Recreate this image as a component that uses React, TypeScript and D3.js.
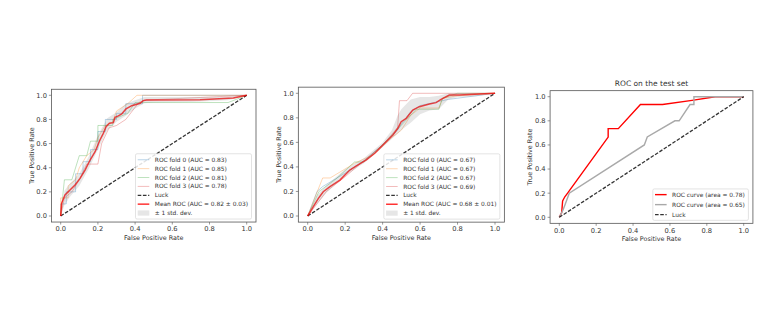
import React from 'react';
import * as d3 from 'd3';

type Pt = [number, number];

const TICKS = [0, 0.2, 0.4, 0.6, 0.8, 1.0];
const TICK_LABELS = ['0.0', '0.2', '0.4', '0.6', '0.8', '1.0'];
const X_LABEL = 'False Positive Rate';
const Y_LABEL = 'True Positive Rate';
const LUCK: Pt[] = [[0, 0], [1, 1]];
const LUCK_LABEL = 'Luck';
const STD_LABEL = '± 1 std. dev.';
const FOLD_COLORS = ['#1f77b4', '#ff7f0e', '#2ca02c', '#d62728'];

// Panel 1
const P1_FOLD0: Pt[] = [[0, 0], [0, 0.1], [0.03, 0.1], [0.03, 0.2], [0.08, 0.2], [0.08, 0.35], [0.12, 0.35], [0.12, 0.45], [0.16, 0.45], [0.16, 0.55], [0.2, 0.55], [0.2, 0.7], [0.24, 0.7], [0.24, 0.8], [0.3, 0.8], [0.3, 0.85], [0.35, 0.85], [0.35, 0.93], [0.44, 0.93], [0.44, 1.0], [1, 1]];
const P1_FOLD1: Pt[] = [[0, 0], [0, 0.15], [0.04, 0.15], [0.04, 0.25], [0.08, 0.3], [0.1, 0.4], [0.14, 0.5], [0.18, 0.55], [0.2, 0.65], [0.24, 0.75], [0.28, 0.78], [0.3, 0.87], [0.36, 0.93], [0.41, 1.0], [1, 1]];
const P1_FOLD2: Pt[] = [[0, 0], [0.02, 0.3], [0.06, 0.3], [0.1, 0.5], [0.14, 0.5], [0.16, 0.62], [0.2, 0.62], [0.2, 0.75], [0.28, 0.75], [0.28, 0.8], [0.36, 0.85], [0.4, 0.94], [0.9, 0.94], [1, 1]];
const P1_FOLD3: Pt[] = [[0, 0], [0.02, 0.15], [0.06, 0.2], [0.1, 0.3], [0.14, 0.43], [0.2, 0.43], [0.22, 0.6], [0.26, 0.73], [0.3, 0.75], [0.35, 0.8], [0.42, 0.94], [0.45, 0.96], [1, 1]];
const P1_FOLD_LABELS = ['ROC fold 0 (AUC = 0.83)', 'ROC fold 1 (AUC = 0.85)', 'ROC fold 2 (AUC = 0.81)', 'ROC fold 3 (AUC = 0.78)'];
const P1_MEAN: Pt[] = [[0, 0], [0.005, 0.105], [0.023, 0.174], [0.05, 0.215], [0.077, 0.257], [0.104, 0.312], [0.131, 0.381], [0.158, 0.464], [0.185, 0.533], [0.211, 0.63], [0.229, 0.685], [0.244, 0.74], [0.262, 0.768], [0.283, 0.773], [0.292, 0.818], [0.31, 0.829], [0.328, 0.845], [0.351, 0.887], [0.382, 0.914], [0.427, 0.934], [0.444, 0.956], [0.462, 0.961], [0.749, 0.964], [0.928, 0.978], [1, 1]];
const P1_MEAN_LABEL = 'Mean ROC (AUC = 0.82 ± 0.03)';
const P1_BAND_X = [0, 0.02, 0.05, 0.1, 0.15, 0.2, 0.25, 0.3, 0.35, 0.4, 0.45, 0.5, 0.7, 0.9, 1.0];
const P1_BAND_LO = [0, 0.09, 0.16, 0.25, 0.39, 0.55, 0.71, 0.78, 0.83, 0.89, 0.935, 0.94, 0.945, 0.96, 1];
const P1_BAND_HI = [0, 0.21, 0.27, 0.35, 0.49, 0.67, 0.81, 0.86, 0.93, 0.96, 0.985, 0.985, 0.985, 0.99, 1];

// Panel 2
const P2_FOLD0: Pt[] = [[0, 0], [0.05, 0.2], [0.08, 0.24], [0.2, 0.35], [0.3, 0.45], [0.4, 0.58], [0.48, 0.7], [0.5, 0.75], [0.55, 0.85], [0.6, 0.9], [0.75, 0.95], [0.85, 0.97], [1, 1]];
const P2_FOLD1: Pt[] = [[0, 0], [0.08, 0.31], [0.12, 0.31], [0.25, 0.43], [0.35, 0.5], [0.45, 0.64], [0.5, 0.7], [0.55, 0.82], [0.6, 0.88], [0.7, 0.88], [0.72, 0.96], [0.8, 0.98], [1, 1]];
const P2_FOLD2: Pt[] = [[0, 0], [0.06, 0.2], [0.15, 0.3], [0.25, 0.44], [0.3, 0.44], [0.4, 0.58], [0.5, 0.74], [0.58, 0.87], [0.7, 0.87], [0.72, 0.96], [0.8, 1], [1, 1]];
const P2_FOLD3: Pt[] = [[0, 0], [0.1, 0.2], [0.2, 0.32], [0.3, 0.45], [0.4, 0.58], [0.48, 0.72], [0.49, 0.94], [0.53, 0.94], [0.56, 1], [1, 1]];
const P2_FOLD_LABELS = ['ROC fold 0 (AUC = 0.67)', 'ROC fold 1 (AUC = 0.67)', 'ROC fold 2 (AUC = 0.67)', 'ROC fold 3 (AUC = 0.69)'];
const P2_MEAN: Pt[] = [[0, 0], [0.03, 0.076], [0.057, 0.144], [0.083, 0.198], [0.119, 0.239], [0.172, 0.293], [0.225, 0.375], [0.26, 0.408], [0.313, 0.457], [0.358, 0.511], [0.402, 0.579], [0.455, 0.66], [0.481, 0.715], [0.499, 0.769], [0.526, 0.796], [0.561, 0.864], [0.596, 0.891], [0.65, 0.913], [0.685, 0.924], [0.712, 0.951], [0.756, 0.986], [0.809, 0.986], [1, 1]];
const P2_MEAN_LABEL = 'Mean ROC (AUC = 0.68 ± 0.01)';
const P2_BAND_X = [0, 0.05, 0.1, 0.2, 0.3, 0.4, 0.45, 0.48, 0.5, 0.55, 0.6, 0.65, 0.7, 0.75, 0.8, 0.9, 1];
const P2_BAND_LO = [0, 0.1, 0.19, 0.33, 0.43, 0.56, 0.63, 0.67, 0.7, 0.76, 0.83, 0.86, 0.87, 0.95, 0.97, 0.975, 1];
const P2_BAND_HI = [0, 0.17, 0.25, 0.38, 0.47, 0.6, 0.7, 0.82, 0.87, 0.95, 0.97, 0.97, 0.98, 1.0, 1.0, 1.0, 1];

// Panel 3
const P3_TITLE = 'ROC on the test set';
const P3_CURVE_A: Pt[] = [[0, 0], [0.013, 0.04], [0.018, 0.135], [0.03, 0.17], [0.045, 0.2], [0.265, 0.665], [0.265, 0.735], [0.32, 0.735], [0.44, 0.935], [0.56, 0.935], [0.72, 0.97], [0.845, 1], [1, 1]];
const P3_CURVE_B: Pt[] = [[0, 0], [0.02, 0.06], [0.03, 0.1], [0.054, 0.2], [0.461, 0.6], [0.477, 0.666], [0.627, 0.8], [0.65, 0.8], [0.709, 0.935], [0.73, 0.935], [0.73, 1.0], [1, 1]];
const P3_LABEL_A = 'ROC curve (area = 0.78)';
const P3_LABEL_B = 'ROC curve (area = 0.65)';

const FONT = "'DejaVu Sans', sans-serif";
const TEXT = '#333';
const SPINE = '#555';

type LegendItem = { label: string; kind: 'line' | 'patch'; color: string; opacity?: number; width?: number; dash?: string };

type PanelProps = {
  xr: [number, number];
  yr: [number, number];
  title?: string;
  legend: LegendItem[];
  legendW: number;
  rowH: number;
  legendPad: number;
  children: (x: d3.ScaleLinear<number, number>, y: d3.ScaleLinear<number, number>) => React.ReactNode;
};

function Panel({ xr, yr, title, legend, legendW, rowH, legendPad, children }: PanelProps) {
  const x = d3.scaleLinear().domain([0, 1]).range(xr);
  const y = d3.scaleLinear().domain([0, 1]).range(yr);
  const left = x(-0.05), right = x(1.05), top = y(1.05), bottom = y(-0.05);
  const lh = legendPad * 2 + (legend.length - 1) * rowH;
  const lx = right - 4.5 - legendW;
  const ly = bottom - 3 - lh;
  return (
    <g>
      {children(x, y)}
      <rect x={left} y={top} width={right - left} height={bottom - top} fill="none" stroke={SPINE} strokeWidth={0.8} />
      {TICKS.map((t, i) => (
        <g key={'x' + i}>
          <line x1={x(t)} x2={x(t)} y1={bottom} y2={bottom + 2.5} stroke={SPINE} strokeWidth={0.6} />
          <text x={x(t)} y={bottom + 7} dy="0.35em" textAnchor="middle" fontSize={6.7} fill={TEXT} fontFamily={FONT}>{TICK_LABELS[i]}</text>
        </g>
      ))}
      {TICKS.map((t, i) => (
        <g key={'y' + i}>
          <line x1={left} x2={left - 2.5} y1={y(t)} y2={y(t)} stroke={SPINE} strokeWidth={0.6} />
          <text x={left - 4.5} y={y(t)} dy="0.35em" textAnchor="end" fontSize={6.7} fill={TEXT} fontFamily={FONT}>{TICK_LABELS[i]}</text>
        </g>
      ))}
      <text x={(left + right) / 2} y={bottom + 15.5} dy="0.35em" textAnchor="middle" fontSize={6.4} fill={TEXT} fontFamily={FONT}>{X_LABEL}</text>
      <text transform={`translate(${left - 20},${(top + bottom) / 2}) rotate(-90)`} dy="0.35em" textAnchor="middle" fontSize={6.4} fill={TEXT} fontFamily={FONT}>{Y_LABEL}</text>
      {title && (
        <text x={(left + right) / 2} y={top - 5} textAnchor="middle" fontSize={7.5} fill={TEXT} fontFamily={FONT}>{title}</text>
      )}
      <rect x={lx} y={ly} width={legendW} height={lh} rx={1.5} fill="white" fillOpacity={0.85} stroke="#d0d0d0" strokeWidth={0.6} />
      {legend.map((it, i) => {
        const cy = ly + legendPad + i * rowH;
        return (
          <g key={'l' + i}>
            {it.kind === 'line' ? (
              <line x1={lx + 2.2} x2={lx + 13.8} y1={cy} y2={cy} stroke={it.color} strokeOpacity={it.opacity ?? 1} strokeWidth={it.width ?? 1} strokeDasharray={it.dash} />
            ) : (
              <rect x={lx + 2.2} y={cy - 2.6} width={11.6} height={5.2} fill={it.color} fillOpacity={it.opacity ?? 1} />
            )}
            <text x={lx + 19.3} y={cy} dy="0.35em" fontSize={5.9} fill={TEXT} fontFamily={FONT}>{it.label}</text>
          </g>
        );
      })}
    </g>
  );
}

function linePath(x: d3.ScaleLinear<number, number>, y: d3.ScaleLinear<number, number>, pts: Pt[]) {
  return d3.line<Pt>().x(d => x(d[0])).y(d => y(d[1]))(pts) || '';
}

function bandPath(x: d3.ScaleLinear<number, number>, y: d3.ScaleLinear<number, number>, xs: number[], lo: number[], hi: number[]) {
  const data = xs.map((v, i) => ({ v, lo: lo[i], hi: hi[i] }));
  return d3.area<{ v: number; lo: number; hi: number }>().x(d => x(d.v)).y0(d => y(d.lo)).y1(d => y(d.hi))(data) || '';
}

const LUCK_STYLE = { stroke: '#000', strokeOpacity: 0.8, strokeWidth: 1.3, strokeDasharray: '3.6,1.6', fill: 'none' };
const MEAN_COLOR = '#ff0000';

function cvLegend(labels: string[], meanLabel: string): LegendItem[] {
  return [
    ...labels.map((l, i) => ({ label: l, kind: 'line' as const, color: FOLD_COLORS[i], opacity: 0.35, width: 0.9 })),
    { label: LUCK_LABEL, kind: 'line', color: '#000', opacity: 0.8, width: 1.3, dash: '3.6,1.6' },
    { label: meanLabel, kind: 'line', color: MEAN_COLOR, opacity: 0.8, width: 1.5 },
    { label: STD_LABEL, kind: 'patch', color: 'grey', opacity: 0.2 },
  ];
}

function CvCurves({ x, y, folds, mean, bx, blo, bhi }: { x: any; y: any; folds: Pt[][]; mean: Pt[]; bx: number[]; blo: number[]; bhi: number[] }) {
  return (
    <g>
      {folds.map((f, i) => (
        <path key={i} d={linePath(x, y, f)} fill="none" stroke={FOLD_COLORS[i]} strokeOpacity={0.35} strokeWidth={0.9} />
      ))}
      <path d={linePath(x, y, LUCK)} {...LUCK_STYLE} />
      <path d={linePath(x, y, mean)} fill="none" stroke={MEAN_COLOR} strokeOpacity={0.8} strokeWidth={1.5} />
      <path d={bandPath(x, y, bx, blo, bhi)} fill="grey" fillOpacity={0.2} stroke="none" />
    </g>
  );
}

export default function App() {
  const p3Legend: LegendItem[] = [
    { label: P3_LABEL_A, kind: 'line', color: '#ff0000', width: 1.4 },
    { label: P3_LABEL_B, kind: 'line', color: '#a9a9a9', width: 1.4 },
    { label: LUCK_LABEL, kind: 'line', color: '#000', opacity: 0.8, width: 1.3, dash: '3.6,1.6' },
  ];
  return (
    <svg width={778} height={333} viewBox="0 0 778 333" style={{ position: 'absolute', left: 0, top: 0, background: 'white' }}>
      <rect x={0} y={0} width={778} height={333} fill="white" />
      <Panel xr={[60.7, 246.7]} yr={[216, 95.3]} legend={cvLegend(P1_FOLD_LABELS, P1_MEAN_LABEL)} legendW={116} rowH={8.88} legendPad={6}>
        {(x, y) => <CvCurves x={x} y={y} folds={[P1_FOLD0, P1_FOLD1, P1_FOLD2, P1_FOLD3]} mean={P1_MEAN} bx={P1_BAND_X} blo={P1_BAND_LO} bhi={P1_BAND_HI} />}
      </Panel>
      <Panel xr={[307.7, 495]} yr={[216, 93.3]} legend={cvLegend(P2_FOLD_LABELS, P2_MEAN_LABEL)} legendW={116} rowH={8.88} legendPad={6}>
        {(x, y) => <CvCurves x={x} y={y} folds={[P2_FOLD0, P2_FOLD1, P2_FOLD2, P2_FOLD3]} mean={P2_MEAN} bx={P2_BAND_X} blo={P2_BAND_LO} bhi={P2_BAND_HI} />}
      </Panel>
      <Panel xr={[559.3, 743.7]} yr={[217.3, 96.7]} title={P3_TITLE} legend={p3Legend} legendW={95.6} rowH={10} legendPad={5.7}>
        {(x, y) => (
          <g>
            <path d={linePath(x, y, P3_CURVE_A)} fill="none" stroke="#ff0000" strokeWidth={1.4} />
            <path d={linePath(x, y, P3_CURVE_B)} fill="none" stroke="#a9a9a9" strokeWidth={1.4} />
            <path d={linePath(x, y, LUCK)} {...LUCK_STYLE} />
          </g>
        )}
      </Panel>
    </svg>
  );
}
